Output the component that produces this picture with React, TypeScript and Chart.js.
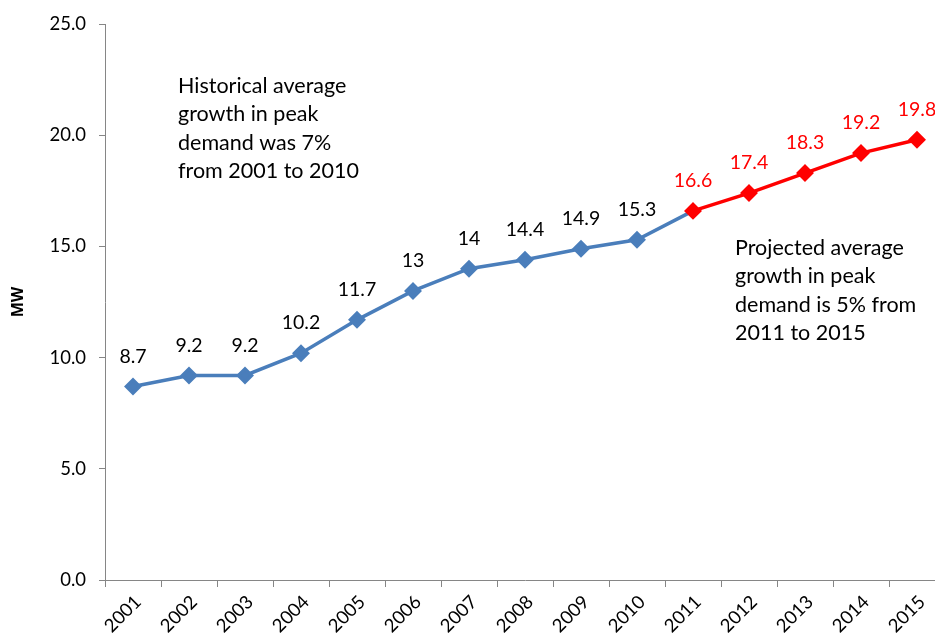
import React, { useEffect, useRef } from "react";
import { Chart, registerables } from "chart.js";

Chart.register(...registerables);

const years = ["2001","2002","2003","2004","2005","2006","2007","2008","2009","2010","2011","2012","2013","2014","2015"];
const demand = [8.7, 9.2, 9.2, 10.2, 11.7, 13, 14, 14.4, 14.9, 15.3, 16.6, 17.4, 18.3, 19.2, 19.8];
const projectedStart = 10;
const histNote = ["Historical average", "growth in peak", "demand was 7%", "from 2001 to 2010"];
const projNote = ["Projected average", "growth in peak", "demand is 5% from", "2011 to 2015"];

const BLUE = "#4A7EBB";
const RED = "#FF0000";
const FONT = "Lato, 'Open Sans', sans-serif";

export default function App() {
  const ref = useRef<HTMLCanvasElement>(null);
  useEffect(() => {
    document.body.style.margin = "0";
    const labelPlugin = {
      id: "labels",
      afterDatasetsDraw(chart: any) {
        const ctx = chart.ctx;
        const meta = chart.getDatasetMeta(0);
        ctx.save();
        ctx.font = `19.5px ${FONT}`;
        ctx.textAlign = "center";
        ctx.textBaseline = "middle";
        meta.data.forEach((pt: any, i: number) => {
          ctx.fillStyle = i >= projectedStart ? RED : "#000";
          ctx.fillText(String(demand[i]), pt.x, pt.y - 30);
        });
        ctx.font = `21.5px ${FONT}`;
        ctx.fillStyle = "#000";
        ctx.textAlign = "left";
        histNote.forEach((t, i) => ctx.fillText(t, 178, 86 + i * 28.5));
        projNote.forEach((t, i) => ctx.fillText(t, 735, 248 + i * 28.5));
        ctx.restore();
      },
    };
    const chart = new Chart(ref.current!, {
      type: "line",
      data: {
        labels: years,
        datasets: [
          {
            data: demand,
            borderColor: BLUE,
            borderWidth: 3.5,
            pointStyle: "rectRot",
            pointRadius: 6.5,
            pointHoverRadius: 6.5,
            pointBackgroundColor: demand.map((_, i) => (i >= projectedStart ? RED : BLUE)),
            pointBorderColor: demand.map((_, i) => (i >= projectedStart ? RED : BLUE)),
            tension: 0,
            segment: {
              borderColor: (c: any) => (c.p0DataIndex >= projectedStart ? RED : BLUE),
            },
          },
        ],
      },
      plugins: [labelPlugin],
      options: {
        animation: false,
        responsive: false,
        layout: { padding: { top: 20, right: 4, left: 0, bottom: 0 } },
        plugins: { legend: { display: false }, tooltip: { enabled: false } },
        scales: {
          x: {
            offset: true,
            grid: { offset: true, drawOnChartArea: false, drawTicks: true, tickLength: 7, color: "#868686" },
            border: { color: "#868686", width: 1 },
            ticks: { minRotation: 45, maxRotation: 45, color: "#000", font: { family: FONT, size: 18.5 }, padding: 4, labelOffset: 5 },
            afterFit: (s: any) => { s.height = 58; s.paddingRight = 0; s.paddingLeft = 0; },
          },
          y: {
            min: 0,
            max: 25,
            ticks: { stepSize: 5, color: "#000", font: { family: FONT, size: 18.5 }, callback: (v: any) => Number(v).toFixed(1), padding: 13 },
            grid: { drawOnChartArea: false, drawTicks: true, tickLength: 6, color: "#868686" },
            border: { color: "#868686", width: 1 },
            title: { display: true, text: "MW", color: "#000", padding: { top: 9, bottom: 4 }, font: { family: "'Open Sans', sans-serif", size: 16, weight: "bold" } },
            afterFit: (s: any) => { s.width = 105; },
          },
        },
      },
    });
    return () => chart.destroy();
  }, []);
  return (
    <div style={{ position: "fixed", left: 0, top: 0, width: 935, height: 638, background: "#fff", overflow: "hidden" }}>
      <canvas ref={ref} width={955} height={638} />
    </div>
  );
}
